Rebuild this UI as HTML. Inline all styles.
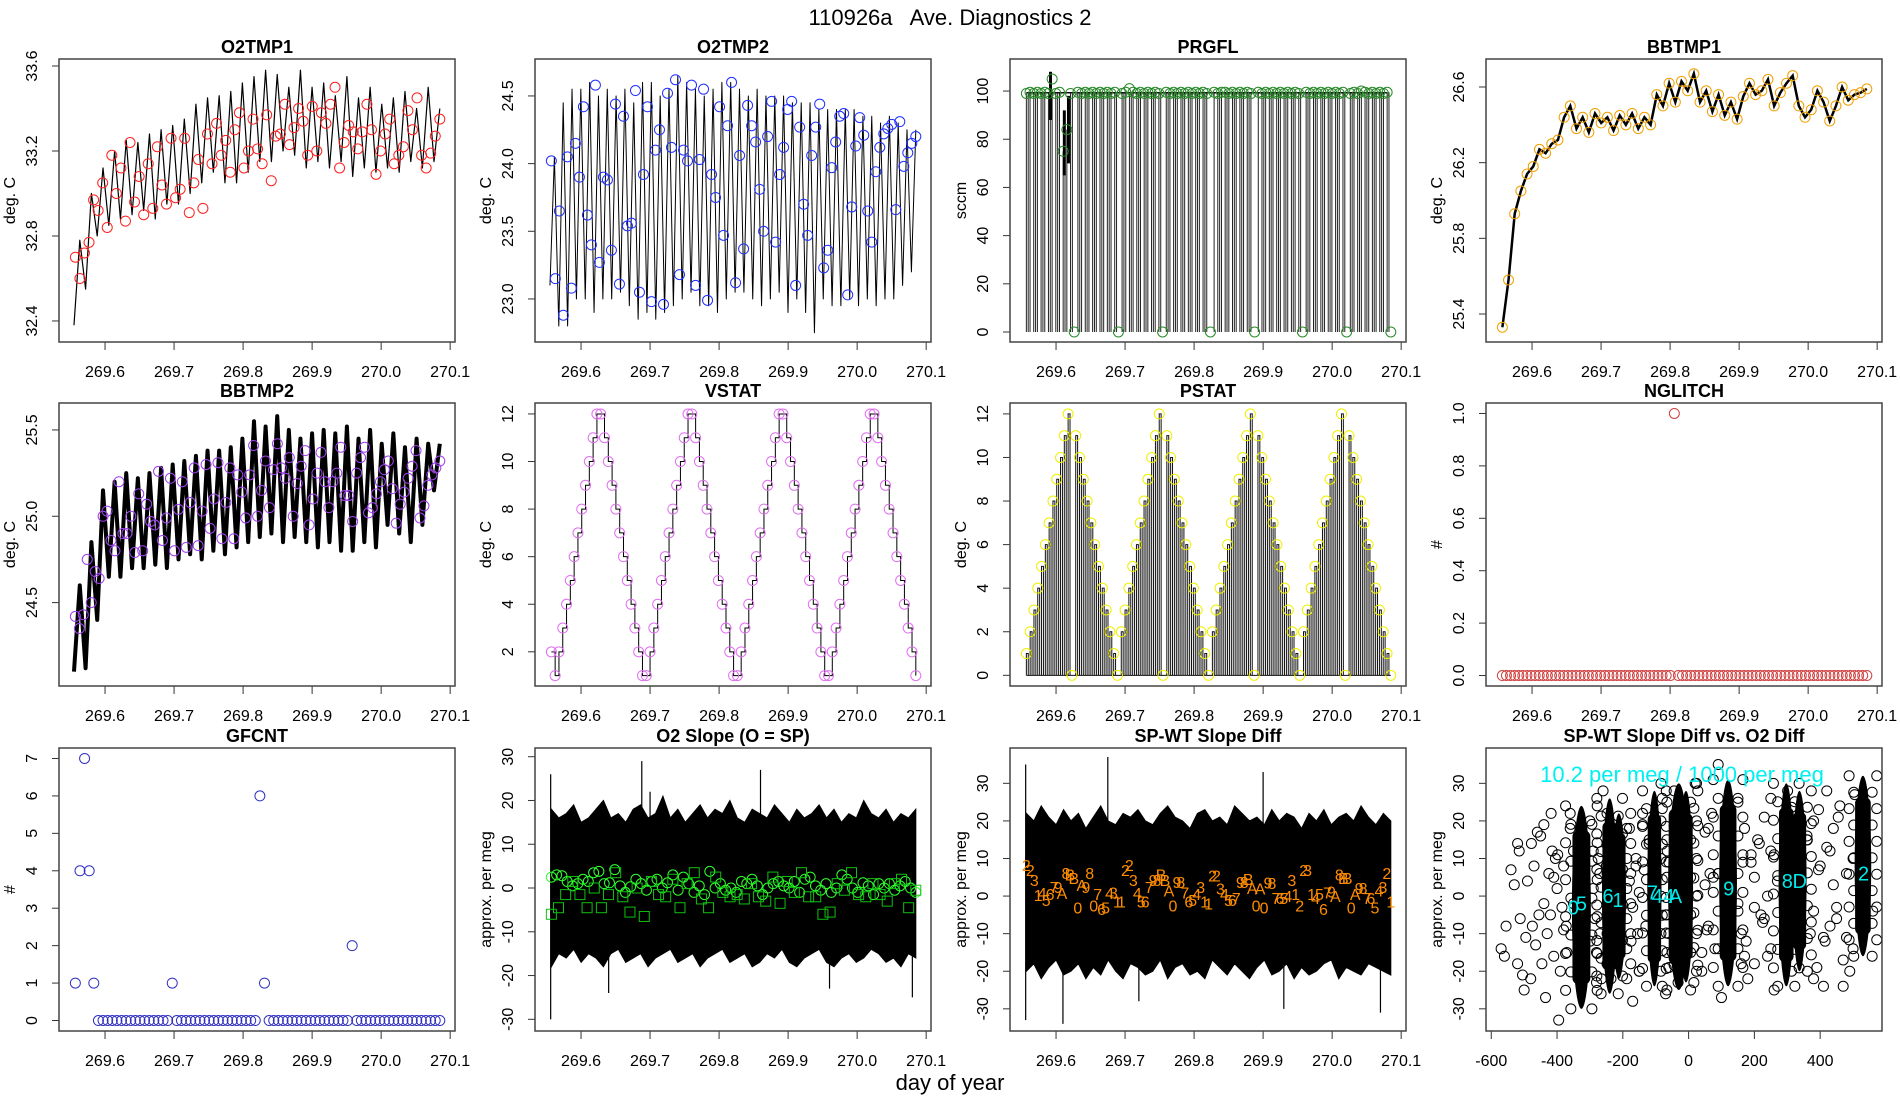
<!DOCTYPE html>
<html><head><meta charset="utf-8"><title>110926a Ave. Diagnostics 2</title>
<style>
html,body{margin:0;padding:0;background:#fff;}
svg{display:block;font-family:"Liberation Sans",sans-serif;}
</style></head>
<body>
<svg id="root" width="1900" height="1100" viewBox="0 0 1900 1100" xmlns="http://www.w3.org/2000/svg">
<rect x="0" y="0" width="1900" height="1100" fill="#fff"/>
<text x="950" y="25" text-anchor="middle" font-size="22" fill="#000" style="white-space:pre" xml:space="preserve">110926a   Ave. Diagnostics 2</text>
<text x="950" y="1090" text-anchor="middle" font-size="22" fill="#000">day of year</text>
</svg>
<script>
// ---------------- DATA ----------------
const o2tmp1Peaks=[32.78,33.0,33.12,33.2,33.25,33.24,33.28,33.3,33.32,33.35,33.42,33.45,33.46,33.48,33.52,33.55,33.58,33.56,33.5,33.58,33.5,33.52,33.46,33.55,33.45,33.5,33.42,33.45,33.48,33.4,33.5,33.4];
const o2tmp1Troughs=[32.38,32.55,32.8,32.85,32.88,32.9,32.92,32.88,32.95,32.95,33.0,33.05,33.1,33.05,33.05,33.1,33.15,33.15,33.2,33.18,33.12,33.15,33.12,33.15,33.08,33.12,33.1,33.12,33.1,33.15,33.12,33.15];
const o2tmp1Pts=[32.70,32.60,32.72,32.77,32.97,32.92,33.05,32.84,33.18,33.00,33.12,32.87,33.24,32.96,33.08,32.90,33.14,32.93,33.22,33.04,32.95,33.26,32.98,33.02,33.26,32.91,33.05,33.16,32.93,33.28,33.14,33.33,33.18,33.25,33.10,33.30,33.38,33.12,33.20,33.35,33.21,33.14,33.37,33.06,33.27,33.28,33.42,33.23,33.31,33.40,33.34,33.18,33.41,33.20,33.38,33.33,33.42,33.50,33.12,33.24,33.32,33.29,33.21,33.29,33.42,33.30,33.09,33.20,33.28,33.35,33.14,33.18,33.22,33.39,33.30,33.45,33.18,33.12,33.19,33.27,33.35];
const o2tmp2Peaks=[24.05,24.45,24.55,24.55,24.6,24.5,24.55,24.5,24.55,24.45,24.6,24.6,24.5,24.55,24.65,24.6,24.55,24.5,24.55,24.6,24.6,24.55,24.5,24.55,24.5,24.5,24.5,24.45,24.45,24.45,24.4,24.4,24.4,24.4,24.4,24.35,24.35,24.3,24.35,24.3,24.25,24.25];
const o2tmp2Troughs=[23.1,22.8,22.8,23.0,23.0,22.9,23.0,23.0,23.05,22.95,22.85,22.9,22.85,22.9,22.95,23.0,23.05,22.95,22.95,22.9,23.0,23.05,23.05,23.0,22.95,23.0,23.05,22.9,23.0,22.9,22.75,23.0,22.95,22.95,23.0,22.95,23.0,22.95,23.0,23.0,23.1,23.2];
const o2tmp2Pts=[24.02,23.15,23.65,22.88,24.05,23.08,24.15,23.90,24.42,23.62,23.40,24.58,23.27,23.90,23.88,23.36,24.44,23.11,24.35,23.54,23.56,24.54,23.05,23.92,24.42,22.98,24.10,24.25,22.96,24.52,24.12,24.62,23.18,24.10,24.02,24.58,23.10,24.03,24.55,22.99,23.92,23.75,24.42,23.47,24.28,24.60,23.12,24.06,23.37,24.43,24.28,24.16,23.81,23.50,24.20,24.46,23.42,23.92,24.12,24.40,24.46,23.10,24.27,23.70,23.47,24.06,24.27,24.44,23.23,23.36,23.97,24.16,24.35,24.37,23.03,23.68,24.13,24.34,24.21,23.65,23.42,23.94,24.12,24.22,24.26,24.29,23.66,24.31,23.98,24.08,24.15,24.20];
const prgflPts=[99,99.5,99,99.5,99,99.5,99,105,99,99.5,75,84,99,0,99.5,99,99.5,99,99.5,99,99.5,99,99.5,99,99.5,0,99,99.5,101,99.5,99,99.5,99,99.5,99,99.5,99,0,99.5,99,99.5,99,99.5,99,99.5,99,99.5,99,99.5,99,0,99.5,99,99.5,99.5,99,99.5,99,99.5,99,99.5,99,0,99.5,99,99.5,99,99.5,99,99.5,99,99.5,99,99.5,99,0,99.5,99,99.5,99,99.5,99,99.5,99,99.5,99,99.5,0,99,99.5,99,100,99.5,99,99.5,99,99.5,99,99.5,0];
const prgflSpikeT=[269.592,269.612,269.618];
const prgflSpikeLo=[88,65,70];
const prgflSpikeHi=[108,92,98];
const bbtmp1Vals=[25.33,25.58,25.93,26.05,26.14,26.18,26.27,26.25,26.30,26.32,26.44,26.50,26.38,26.44,26.36,26.46,26.41,26.44,26.37,26.45,26.40,26.46,26.38,26.44,26.40,26.56,26.50,26.62,26.52,26.63,26.58,26.67,26.52,26.58,26.47,26.56,26.45,26.52,26.43,26.55,26.62,26.56,26.58,26.64,26.50,26.57,26.62,26.66,26.50,26.44,26.48,26.58,26.52,26.42,26.50,26.60,26.53,26.56,26.57,26.59];
const bbtmp2Peaks=[24.6,24.85,25.15,25.2,25.25,25.22,25.25,25.28,25.3,25.32,25.35,25.38,25.38,25.4,25.45,25.55,25.52,25.58,25.5,25.45,25.48,25.5,25.48,25.52,25.45,25.5,25.42,25.48,25.4,25.45,25.42,25.42];
const bbtmp2Troughs=[24.1,24.12,24.4,24.65,24.65,24.7,24.7,24.72,24.7,24.75,24.78,24.75,24.8,24.78,24.82,24.85,24.88,24.9,24.85,24.88,24.85,24.82,24.85,24.8,24.8,24.85,24.82,24.95,24.9,24.85,24.95,25.15];
const bbtmp2Pts=[24.42,24.35,24.43,24.75,24.5,24.68,24.64,25.0,25.03,24.86,24.8,25.2,24.9,24.9,25.0,24.79,25.13,24.8,25.07,24.97,24.95,25.26,24.86,24.99,25.22,24.8,25.04,25.2,24.82,25.08,25.28,24.83,25.03,25.3,24.93,25.1,25.31,24.87,25.08,25.28,24.87,25.24,25.14,24.99,25.24,25.41,25.0,25.15,25.32,25.05,25.27,25.42,25.28,25.22,25.34,25.0,25.19,25.29,25.38,24.95,25.1,25.25,25.37,25.2,25.05,25.2,25.25,25.4,25.12,25.12,24.97,25.25,25.34,25.4,25.02,25.05,25.13,25.2,25.27,25.32,25.16,24.96,25.07,25.14,25.22,25.29,25.38,24.99,25.06,25.18,25.24,25.28,25.32];
const vstatVals=[2,1,2,3,4,5,6,7,8,9,10,11,12,12,11,10,9,8,7,6,5,4,3,2,1,1,2,3,4,5,6,7,8,9,10,11,12,12,11,10,9,8,7,6,5,4,3,2,1,1,2,3,4,5,6,7,8,9,10,11,12,12,11,10,9,8,7,6,5,4,3,2,1,1,2,3,4,5,6,7,8,9,10,11,12,12,11,10,9,8,7,6,5,4,3,2,1];
const pstatVals=[1,2,3,4,5,6,7,8,9,10,11,12,0,11,10,9,8,7,6,5,4,3,2,1,0,2,3,4,5,6,7,8,9,10,11,12,0,11,10,9,8,7,6,5,4,3,2,1,0,2,3,4,5,6,7,8,9,10,11,12,0,11,10,9,8,7,6,5,4,3,2,1,0,2,3,4,5,6,7,8,9,10,11,12,0,11,10,9,8,7,6,5,4,3,2,1,0];
const nglitchVals=[0,0,0,0,0,0,0,0,0,0,0,0,0,0,0,0,0,0,0,0,0,0,0,0,0,0,0,0,0,0,0,0,0,0,0,0,0,0,0,0,0,0,1,0,0,0,0,0,0,0,0,0,0,0,0,0,0,0,0,0,0,0,0,0,0,0,0,0,0,0,0,0,0,0,0,0,0,0,0,0,0,0,0,0,0,0,0,0,0,0];
const gfcntVals=[1,4,7,4,1,0,0,0,0,0,0,0,0,0,0,0,0,0,0,0,0,1,0,0,0,0,0,0,0,0,0,0,0,0,0,0,0,0,0,0,6,1,0,0,0,0,0,0,0,0,0,0,0,0,0,0,0,0,0,0,2,0,0,0,0,0,0,0,0,0,0,0,0,0,0,0,0,0,0,0];
const slopeUpper=[18,16,17,19,15,16,18,20,16,17,15,18,19,16,17,21,16,18,15,17,19,16,18,17,20,16,15,18,17,16,19,17,15,18,16,17,19,16,18,15,17,16,20,17,16,18,15,17,16,18];
const slopeLower=[-18,-15,-16,-14,-17,-15,-16,-18,-15,-14,-17,-16,-15,-18,-16,-15,-14,-17,-16,-15,-18,-16,-15,-14,-17,-16,-15,-18,-17,-15,-16,-14,-17,-18,-16,-15,-14,-17,-18,-16,-15,-17,-16,-14,-15,-17,-16,-18,-15,-16];
const slopeSpikeT=[269.556,269.556,269.688,269.86,269.64,269.96,269.7,270.08];
const slopeSpikeV=[26,-30,29,27,-24,-23,22,-25];
const slopeCircles=[2.5,3,2.8,1.5,0.5,1,2,1.5,3.5,3.8,1,1.2,4.2,0.5,-1,0.3,2,1,-0.5,1.5,2,0,1.2,3,-0.5,2.5,1,-1,0.5,-1.5,3.8,0,1,-0.5,0,-1,1.5,1,2,0.5,-1.5,0,1,1.5,0.5,0,1.5,-1,2,2.5,0.5,-0.5,1,-1,0,3,2,0,-1,1.2,0.5,-1.5,1,0,1,-0.5,0.5,1.5,0,-1];
const slopeSquares=[-6,-4.5,-1.5,1.5,-1.5,-4.5,0,-4.5,-1.5,3.5,-2,-5.5,0,-6.5,1.5,-1.5,-2,2,-4.5,1,3.5,-2.5,-4.5,2.5,-1,-2,-1.5,-2.5,1,-2,-3,2.5,-3.5,1.5,-1,3.5,-2,-2,-6,-5.5,1,-0.5,3.5,-1.5,-2,1,-1.5,-3,1,2,-4.5,-0.5];
const spwtUpper=[22,20,24,21,19,23,20,22,18,21,24,20,19,22,21,23,20,19,22,24,21,20,18,22,23,20,21,19,24,22,20,21,19,23,20,22,21,18,22,20,23,19,21,22,20,24,21,19,22,20];
const spwtLower=[-20,-18,-22,-19,-17,-21,-20,-18,-22,-19,-21,-17,-20,-22,-18,-19,-21,-20,-17,-22,-19,-18,-21,-20,-22,-17,-19,-21,-18,-20,-22,-19,-17,-21,-20,-18,-22,-19,-21,-20,-18,-17,-22,-19,-20,-21,-18,-19,-20,-21];
const spwtSpikeT=[269.556,269.556,269.61,269.675,269.72,269.9,269.93,270.07];
const spwtSpikeV=[35,-33,-34,37,-28,33,-30,-31];
const spwtLabels=["2","2","3","1","4","5","6","7","9","A","8","B","B","0","A","9","8","0","7","6","5","4","3","1","1","2","2","3","4","5","6","7","9","8","B","B","A","0","9","8","7","6","5","4","3","1","1","2","2","3","4","5","6","7","9","8","B","A","0","A","0","9","8","7","6","5","4","3","1","2","2","3","1","4","5","6","7","9","A","8","B","B","0","A","9","8","7","6","5","4","3","2","1"];
const spwtLabelV=[8.3,6.9,4.3,0.3,0.8,-1,0.5,2.4,2.4,0.8,6.1,5.7,4.8,-3,3,2.4,6.1,-2.5,0.5,-3.5,-3,0.8,1,-1.5,-1.5,6.9,8.3,4.3,0.8,-1.5,-1.5,2.4,4.3,4.3,5.7,4.3,1.5,-2.5,3.8,3.8,1,-1.5,-1,0.5,2.4,-1.5,-2,5.5,5.5,2,0.5,-1,-1,-0.5,3.8,3.8,4.5,2.2,-2.5,2,-3,3.6,3.5,-0.5,-0.5,-0.5,0,4.3,0.5,-2.5,7,7,0.5,-0.5,0.5,-3.5,1,1.2,0,5.7,4.8,4.8,-3,0.6,2.2,2.2,-0.5,-0.5,-3,1.5,2.4,6.1,-1.5];
const scatClusterX=[-326,-240,-212,-104,-30,-8,120,297,337,530];
const scatClusterHalfW=[32,26,24,24,36,24,30,26,24,28];
const scatClusterTop=[24,26,22,28,30,28,31,30,28,32];
const scatClusterBot=[-30,-26,-22,-24,-25,-23,-24,-24,-20,-16];
const scatPtsX=[-570,-560,-540,-520,-515,-500,-495,-480,-470,-460,-455,-440,-430,-420,-415,-405,-400,-395,-390,-380,-370,-360,-350,-520,-505,-490,-475,-465,-450,-435,-425,-410,-398,-385,-372,-360,-300,-290,-280,-270,-265,-260,-180,-175,-160,-150,-140,-130,-120,-80,-70,-60,-50,40,50,60,70,80,90,100,150,160,170,180,190,200,210,220,230,240,250,260,270,360,370,380,390,400,410,420,430,440,450,460,470,480,490,500,505,-555,-530,-512,-478,-446,-418,-300,-250,-170,-60,60,170,250,380,430,470,-150,-135,-120,40,75,160,190,230,395,415,455,500,560,-280,-270,-140,-60,20,90,200,360,420,480,-290,-285,-275,-180,-170,-160,-155,-150,-70,-65,50,55,65,150,165,175,200,215,225,240,250,260,380,395,410,440,450,-440,-410,-380,-350];
const scatPtsY=[-14,-16,7,-18,12,-25,-11,-22,8,17,-5,19,-10,-5,12,10,2,-33,-20,8,-15,18,-2,14,-21,4,-8,-13,16,-27,6,-16,11,-3,-8,22,20,12,-15,6,-22,28,18,-12,10,-20,22,-8,14,26,-26,9,-15,-20,17,-8,22,-14,6,-27,25,-10,18,-22,9,-18,15,-5,21,-16,12,-25,4,15,-10,20,-19,8,-24,13,-8,18,-3,24,-17,6,-20,10,27,-8,3,-6,14,-18,22,-12,8,-28,-10,18,-16,26,-22,12,-24,-20,7,15,-15,5,-18,11,-6,23,-12,21,-14,-4,-23,-10,19,-19,30,35,-3,16,28,-11,2,-6,10,4,-3,8,-10,1,-5,12,3,-9,6,-2,9,-12,5,14,-7,0,-14,11,-4,7,-11,3,-6,-2,5,-9,12];
const scatLabels=["0","5","6","1","7","4","4","A","9","8","D","2"];
const scatLabelX=[-350,-326,-245,-215,-110,-95,-60,-40,122,300,338,532];
const scatLabelY=[-3,-2,0,-1,1,0,0,0,2,4,4,6];

// ---------------- HELPERS ----------------
const NS="http://www.w3.org/2000/svg";
const root=document.getElementById('root');
function el(tag,attrs,parent){const e=document.createElementNS(NS,tag);for(const k in attrs)e.setAttribute(k,attrs[k]);(parent||root).appendChild(e);return e;}
function lin(a,b,n){const r=[];for(let i=0;i<n;i++)r.push(a+(b-a)*i/(n-1));return r;}
const COLX=[59,535,1010,1486], ROWY=[59,403,748], PW=396, PH=283;
const TDOM=[269.5333,270.107];
function panel(c,r,ydom,xdom){
  const x0=COLX[c],y0=ROWY[r];const xd=xdom||TDOM;
  return {x0,y0,x1:x0+PW,y1:y0+PH,
    sx:v=>x0+(v-xd[0])/(xd[1]-xd[0])*PW,
    sy:v=>y0+PH-(v-ydom[0])/(ydom[1]-ydom[0])*PH};
}
function frame(p,name,title,ylab,yticks,ylabels,xticks,xlabels){
  const g=el('g',{});
  
  
  const t=el('text',{x:(p.x0+p.x1)/2,y:p.y0-6,'text-anchor':'middle','font-size':18,'font-weight':'bold'},g);
  t.textContent=title;
  
  
  const yl=el('text',{transform:`translate(${p.x0-44},${(p.y0+p.y1)/2}) rotate(-90)`,'text-anchor':'middle','font-size':16},g);
  yl.textContent=ylab;
  
  
  yticks.forEach((v,i)=>{const y=p.sy(v);
    const l=el('line',{x1:p.x0-7,x2:p.x0,y1:y,y2:y,stroke:'#333','stroke-width':1},g);
    
    
    const tx=el('text',{transform:`translate(${p.x0-22},${y}) rotate(-90)`,'text-anchor':'middle','font-size':16},g);
    tx.textContent=ylabels[i];
    
    });
  xticks.forEach((v,i)=>{const x=p.sx(v);
    const l=el('line',{x1:x,x2:x,y1:p.y1,y2:p.y1+8,stroke:'#333','stroke-width':1},g);
    
    
    const tx=el('text',{x:x,y:p.y1+35,'text-anchor':'middle','font-size':16},g);
    tx.textContent=xlabels[i];
    
    });
  return g;
}
function box(p,name){const b=el('rect',{x:p.x0,y:p.y0,width:PW,height:PH,fill:'none',stroke:'#444','stroke-width':1.5});
  
  }
function clip(p,id){const cp=el('clipPath',{id});el('rect',{x:p.x0,y:p.y0,width:PW,height:PH},cp);const g=el('g',{'clip-path':`url(#${id})`});return g;}
function circ(g,x,y,col,name){const c=el('circle',{cx:x,cy:y,r:5,fill:'none',stroke:col,'stroke-width':1},g);
  
  return c;}
function zig(p,g,peaks,troughs,t0,t1,sw,name){
  const n=peaks.length,ts=lin(t0,t1,n*2);let d='';
  for(let i=0;i<n;i++){d+=(i?'L':'M')+p.sx(ts[2*i])+','+p.sy(troughs[i])+'L'+p.sx(ts[2*i+1])+','+p.sy(peaks[i]);}
  const l=el('path',{d,fill:'none',stroke:'#000','stroke-width':sw,'stroke-linejoin':'round'},g);
  
  }
const XT=[269.6,269.7,269.8,269.9,270.0,270.1], XL=['269.6','269.7','269.8','269.9','270.0','270.1'];
const T0=269.557,T1=270.085;

// ---------- O2TMP1 ----------
(function(){const p=panel(0,0,[32.301,33.633]);
 frame(p,'o2tmp1','O2TMP1','deg. C',[32.4,32.8,33.2,33.6],['32.4','32.8','33.2','33.6'],XT,XL);
 const g=clip(p,'c1');
 zig(p,g,o2tmp1Peaks,o2tmp1Troughs,T0-0.002,T1,1.2,'o2tmp1-line');
 const ts=lin(T0,T1,o2tmp1Pts.length);
 o2tmp1Pts.forEach((v,i)=>circ(g,p.sx(ts[i]),p.sy(v),'#ff2020','o2tmp1-point'));
 box(p,'o2tmp1');})();
// ---------- O2TMP2 ----------
(function(){const p=panel(1,0,[22.682,24.773]);
 frame(p,'o2tmp2','O2TMP2','deg. C',[23.0,23.5,24.0,24.5],['23.0','23.5','24.0','24.5'],XT,XL);
 const g=clip(p,'c2');
 zig(p,g,o2tmp2Peaks,o2tmp2Troughs,T0-0.002,T1,1,'o2tmp2-line');
 const ts=lin(T0,T1,o2tmp2Pts.length);
 o2tmp2Pts.forEach((v,i)=>circ(g,p.sx(ts[i]),p.sy(v),'#2030ff','o2tmp2-point'));
 box(p,'o2tmp2');})();
// ---------- PRGFL ----------
(function(){const p=panel(2,0,[-4.15,113.3]);
 frame(p,'prgfl','PRGFL','sccm',[0,20,40,60,80,100],['0','20','40','60','80','100'],XT,XL);
 const g=clip(p,'c3');
 const ts=lin(T0,T1,prgflPts.length);const dt=ts[1]-ts[0];
 let d='';
 prgflPts.forEach((v,i)=>{if(v>0){const v2=Math.min(v,99.5);
   d+='M'+p.sx(ts[i])+','+p.sy(0)+'V'+p.sy(v2);
   if(i%2===0)d+='M'+p.sx(ts[i]+dt/2)+','+p.sy(0)+'V'+p.sy(v2);}});
 const bars=el('path',{d,stroke:'#222','stroke-width':1,fill:'none'},g);
 
 
 const top=el('path',{d:'M'+p.sx(ts[0])+','+p.sy(99.3)+'H'+p.sx(ts[ts.length-2]),stroke:'#111','stroke-width':1.5},g);
 
 
 prgflSpikeT.forEach((t,i)=>{const s=el('line',{x1:p.sx(t),x2:p.sx(t),y1:p.sy(prgflSpikeLo[i]),y2:p.sy(prgflSpikeHi[i]),stroke:'#000','stroke-width':3},g);
  
  });
 prgflPts.forEach((v,i)=>circ(g,p.sx(ts[i]),p.sy(v),'#2a8a2a','prgfl-point'));
 box(p,'prgfl');})();
// ---------- BBTMP1 ----------
(function(){const p=panel(3,0,[25.252,26.748]);
 frame(p,'bbtmp1','BBTMP1','deg. C',[25.4,25.8,26.2,26.6],['25.4','25.8','26.2','26.6'],XT,XL);
 const g=clip(p,'c4');
 const ts=lin(T0,T1,bbtmp1Vals.length);
 const l=el('polyline',{points:bbtmp1Vals.map((v,i)=>p.sx(ts[i])+','+p.sy(v)).join(' '),fill:'none',stroke:'#000','stroke-width':2.5},g);
 
 
 bbtmp1Vals.forEach((v,i)=>circ(g,p.sx(ts[i]),p.sy(v),'#f0a000','bbtmp1-point'));
 box(p,'bbtmp1');})();
// ---------- BBTMP2 ----------
(function(){const p=panel(0,1,[24.017,25.656]);
 frame(p,'bbtmp2','BBTMP2','deg. C',[24.5,25.0,25.5],['24.5','25.0','25.5'],XT,XL);
 const g=clip(p,'c5');
 zig(p,g,bbtmp2Peaks,bbtmp2Troughs,T0-0.002,T1,4,'bbtmp2-line');
 const ts=lin(T0,T1,bbtmp2Pts.length);
 bbtmp2Pts.forEach((v,i)=>circ(g,p.sx(ts[i]),p.sy(v),'#a040f0','bbtmp2-point'));
 box(p,'bbtmp2');})();
// ---------- VSTAT ----------
(function(){const p=panel(1,1,[0.563,12.46]);
 frame(p,'vstat','VSTAT','deg. C',[2,4,6,8,10,12],['2','4','6','8','10','12'],XT,XL);
 const g=clip(p,'c6');
 const ts=lin(T0,T1,vstatVals.length);let d='';
 vstatVals.forEach((v,i)=>{if(i===0)d='M'+p.sx(ts[0])+','+p.sy(v);else d+='H'+p.sx(ts[i])+'V'+p.sy(v);});
 const l=el('path',{d,fill:'none',stroke:'#000','stroke-width':1},g);
 
 
 vstatVals.forEach((v,i)=>circ(g,p.sx(ts[i]),p.sy(v),'#e070f0','vstat-point'));
 box(p,'vstat');})();
// ---------- PSTAT ----------
(function(){const p=panel(2,1,[-0.49,12.5]);
 frame(p,'pstat','PSTAT','deg. C',[0,2,4,6,8,10,12],['0','2','4','6','8','10','12'],XT,XL);
 const g=clip(p,'c7');
 const ts=lin(T0,T1,pstatVals.length);const dt=ts[1]-ts[0];let d='';
 pstatVals.forEach((v,i)=>{if(v>0){d+='M'+p.sx(ts[i])+','+p.sy(0)+'V'+p.sy(v)+'H'+p.sx(ts[i]+dt*0.5)+'V'+p.sy(0);}});
 d+='M'+p.sx(ts[0])+','+p.sy(0)+'H'+p.sx(ts[ts.length-1]);
 const l=el('path',{d,fill:'none',stroke:'#111','stroke-width':1},g);
 
 
 pstatVals.forEach((v,i)=>circ(g,p.sx(ts[i]),p.sy(v),'#f0f000','pstat-point'));
 box(p,'pstat');})();
// ---------- NGLITCH ----------
(function(){const p=panel(3,1,[-0.04,1.04]);
 frame(p,'nglitch','NGLITCH','#',[0,0.2,0.4,0.6,0.8,1.0],['0.0','0.2','0.4','0.6','0.8','1.0'],XT,XL);
 const g=clip(p,'c8');
 const ts=lin(T0,T1,nglitchVals.length);
 nglitchVals.forEach((v,i)=>circ(g,p.sx(ts[i]),p.sy(v),'#d04040','nglitch-point'));
 box(p,'nglitch');})();
// ---------- GFCNT ----------
(function(){const p=panel(0,2,[-0.28,7.28]);
 frame(p,'gfcnt','GFCNT','#',[0,1,2,3,4,5,6,7],['0','1','2','3','4','5','6','7'],XT,XL);
 const g=clip(p,'c9');
 const ts=lin(T0,T1,gfcntVals.length);
 gfcntVals.forEach((v,i)=>circ(g,p.sx(ts[i]),p.sy(v),'#3030c0','gfcnt-point'));
 box(p,'gfcnt');})();
// ---------- band helper ----------
function band(p,g,up,lo,spT,spV,name){
 const ts=lin(T0,T1,up.length);let d='M'+p.sx(ts[0])+','+p.sy(up[0]);
 up.forEach((v,i)=>{d+='L'+p.sx(ts[i])+','+p.sy(v);});
 for(let i=lo.length-1;i>=0;i--)d+='L'+p.sx(ts[i])+','+p.sy(lo[i]);
 const b=el('path',{d:d+'Z',fill:'#000',stroke:'#000','stroke-width':1},g);
 
 
 let s='';spT.forEach((t,i)=>{s+='M'+p.sx(t)+','+p.sy(0)+'V'+p.sy(spV[i]);});
 const sp=el('path',{d:s,stroke:'#000','stroke-width':1.2,fill:'none'},g);
 
 }
// ---------- O2 Slope ----------
(function(){const p=panel(1,2,[-32.67,31.99]);
 frame(p,'o2-slope','O2 Slope (O = SP)','approx. per meg',[-30,-20,-10,0,10,20,30],['-30','-20','-10','0','10','20','30'],XT,XL);
 const g=clip(p,'c10');
 band(p,g,slopeUpper,slopeLower,slopeSpikeT,slopeSpikeV,'o2-slope');
 const tc=lin(T0,T1,slopeCircles.length);
 slopeCircles.forEach((v,i)=>circ(g,p.sx(tc[i]),p.sy(v),'#30ff30','o2-slope-circle'));
 const tq=lin(T0,T1,slopeSquares.length);
 slopeSquares.forEach((v,i)=>{const r=el('rect',{x:p.sx(tq[i])-5,y:p.sy(v)-5,width:10,height:10,fill:'none',stroke:'#10c010','stroke-width':1},g);
  
  });
 box(p,'o2-slope');})();
// ---------- SP-WT ----------
(function(){const p=panel(2,2,[-35.9,39.4]);
 frame(p,'spwt','SP-WT Slope Diff','approx. per meg',[-30,-20,-10,0,10,20,30],['-30','-20','-10','0','10','20','30'],XT,XL);
 const g=clip(p,'c11');
 band(p,g,spwtUpper,spwtLower,spwtSpikeT,spwtSpikeV,'spwt');
 const tl=lin(T0,T1,spwtLabels.length);
 spwtLabels.forEach((c,i)=>{const t=el('text',{x:p.sx(tl[i]),y:p.sy(spwtLabelV[i])+6,'text-anchor':'middle','font-size':16,fill:'#ff8c00'},g);
  t.textContent=c;
  
  });
 box(p,'spwt');})();
// ---------- Scatter ----------
(function(){const p=panel(3,2,[-35.9,39.4],[-616,588]);
 frame(p,'scatter','SP-WT Slope Diff vs. O2 Diff','approx. per meg',[-30,-20,-10,0,10,20,30],['-30','-20','-10','0','10','20','30'],[-600,-400,-200,0,200,400],['-600','-400','-200','0','200','400']);
 const g=clip(p,'c12');
 scatPtsX.forEach((x,i)=>circ(g,p.sx(x),p.sy(scatPtsY[i]),'#000','scatter-point'));
 scatClusterX.forEach((cx,i)=>{
  const x=p.sx(cx),hw=scatClusterHalfW[i]*0.329,yt=p.sy(scatClusterTop[i]),yb=p.sy(scatClusterBot[i]);
  const e=el('ellipse',{cx:x,cy:(yt+yb)/2,rx:hw*0.9,ry:(yb-yt)/2,fill:'#000'},g);
  
  
  const e2=el('rect',{x:x-hw*0.85,y:yt+(yb-yt)*0.12,width:hw*1.7,height:(yb-yt)*0.76,rx:hw*0.6,fill:'#000'},g);
  
  
  for(let k=0;k<12;k++){const yy=yt+(yb-yt)*k/11;
   const s=(k%2)?1.0:1.5;
   circ(g,x-hw*s,yy,'#000','scatter-cluster-edge');
   circ(g,x+hw*s,yy,'#000','scatter-cluster-edge');}
 });
 scatLabels.forEach((c,i)=>{const t=el('text',{x:p.sx(scatLabelX[i]),y:p.sy(scatLabelY[i])+7,'text-anchor':'middle','font-size':20,fill:'#00e8e8'},g);
  t.textContent=c;
  
  });
 const a=el('text',{x:1682,y:782,'text-anchor':'middle','font-size':22,fill:'#00f0f0'},g);
 a.textContent='10.2 per meg / 1000 per meg';
 
 
 box(p,'scatter');})();
</script>
</body></html>
